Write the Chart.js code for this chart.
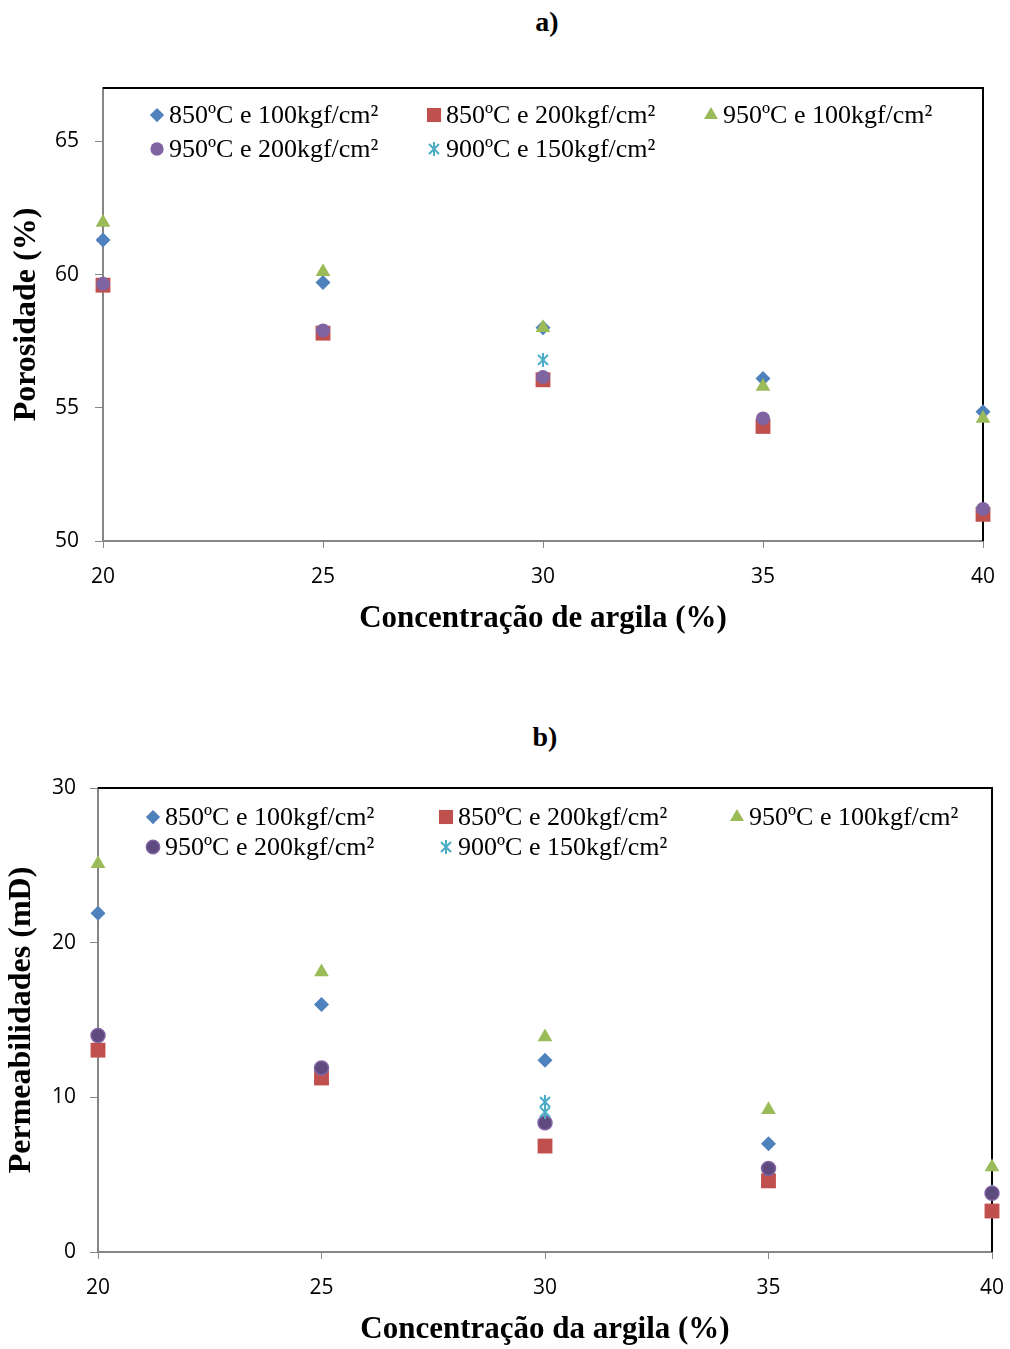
<!DOCTYPE html>
<html>
<head>
<meta charset="utf-8">
<script src="https://cdn.jsdelivr.net/npm/chart.js@4/dist/chart.umd.min.js"></script>
<style>
  body { margin: 0; background: #fff; }
  .wrap { position: relative; width: 1010px; height: 1349px; }
  .ptitle { position: absolute; width: 100px; text-align: center; font: bold 28px "Liberation Serif", serif; line-height: 34px; color: #000; }
  canvas { position: absolute; left: 0; }
</style>
</head>
<body>
<div class="wrap">
  <div class="ptitle" style="left:497px; top:5px;">a)</div>
  <canvas id="chartA" width="1010" height="610" style="top:40px;"></canvas>
  <div class="ptitle" style="left:495px; top:720px;">b)</div>
  <canvas id="chartB" width="1010" height="589" style="top:760px;"></canvas>
</div>
<script>
// clay concentration (%)
const concentration = [20, 25, 30, 35, 40];
const seriesNames = ['850ºC e 100kgf/cm²', '850ºC e 200kgf/cm²', '950ºC e 100kgf/cm²', '950ºC e 200kgf/cm²', '900ºC e 150kgf/cm²'];

// a) porosity (%)
const poro850_100 = [61.3, 59.7, 58.0, 56.1, 54.85];
const poro850_200 = [59.6, 57.8, 56.05, 54.3, 51.0];
const poro950_100 = [61.95, 60.1, 58.0, 55.8, 54.6];
const poro950_200 = [59.65, 57.9, 56.15, 54.6, 51.2];
const poro900_150x = [30];
const poro900_150 = [56.8];

// b) permeability (mD)
const perm850_100 = [21.9, 16.0, 12.4, 7.0, 3.9];
const perm850_200 = [13.05, 11.25, 6.85, 4.6, 2.65];
const perm950_100 = [25.1, 18.1, 13.9, 9.2, 5.5];
const perm950_200 = [14.0, 11.9, 8.35, 5.4, 3.8];
const perm900_150x = [30, 30];
const perm900_150 = [9.7, 9.05];

const yTicksA = [50, 55, 60, 65];
const yTicksB = [0, 10, 20, 30];

const serif = '"Liberation Serif", "Times New Roman", serif';
const sans = '"Open Sans", "Liberation Sans", sans-serif';

// excel style star marker: X with a vertical bar
function starMarker(color) {
  const c = document.createElement('canvas');
  c.width = 14; c.height = 14;
  const g = c.getContext('2d');
  g.strokeStyle = color;
  g.lineWidth = 2;
  g.beginPath();
  g.moveTo(2, 2); g.lineTo(12, 12);
  g.moveTo(12, 2); g.lineTo(2, 12);
  g.moveTo(7, 0); g.lineTo(7, 14);
  g.stroke();
  return c;
}

function pts(xs, ys) {
  return ys.map((v, i) => ({ x: xs[i], y: v }));
}

function makeSets(vals, crossX, purpleBorder) {
  const styles = [
    { pointStyle: 'rectRot', radius: 7.5, color: '#4F81BD', border: '#4F81BD' },
    { pointStyle: 'rect', radius: 10.5, color: '#C0504D', border: '#C0504D' },
    { pointStyle: 'triangle', radius: 8.5, color: '#9BBB59', border: '#9BBB59' },
    { pointStyle: 'circle', radius: 7, color: purpleBorder ? '#5E4A7E' : '#8064A2', border: '#8064A2' },
    { pointStyle: starMarker('#4BACC6'), radius: 7, color: '#4BACC6', border: '#4BACC6' }
  ];
  return vals.map((v, i) => ({
    label: seriesNames[i],
    data: i === 4 ? pts(crossX, v) : pts(concentration, v),
    pointStyle: styles[i].pointStyle,
    pointRadius: styles[i].radius,
    pointHoverRadius: styles[i].radius,
    backgroundColor: styles[i].color,
    borderColor: styles[i].border,
    pointBorderWidth: (i === 3 && purpleBorder) ? 1.5 : 0,
    showLine: false,
    clip: false,
    order: 5 - i
  }));
}

// legend drawn inside the plot area, 3 columns
const insideLegend = {
  id: 'insideLegend',
  afterDraw(chart, args, opts) {
    const { ctx, chartArea } = chart;
    ctx.save();
    chart.data.datasets.forEach((ds, i) => {
      const col = i % 3, row = Math.floor(i / 3);
      const x = chartArea.left + opts.cols[col];
      const y = chartArea.top + opts.rows[row];
      ctx.fillStyle = ds.backgroundColor;
      ctx.strokeStyle = ds.borderColor;
      ctx.lineWidth = ds.pointBorderWidth;
      Chart.helpers.drawPoint(ctx, {
        pointStyle: ds.pointStyle,
        radius: ds.pointRadius * 0.95,
        rotation: 0,
        borderWidth: ds.pointBorderWidth
      }, x, y);
      ctx.fillStyle = '#000';
      ctx.font = '26px ' + serif;
      ctx.textBaseline = 'middle';
      ctx.textAlign = 'left';
      ctx.fillText(ds.label, x + 12, y + 1);
    });
    ctx.restore();
  }
};

// black frame on top and right of the plot area
const frame = {
  id: 'frame',
  beforeDatasetsDraw(chart) {
    const { ctx, chartArea: a } = chart;
    ctx.save();
    ctx.strokeStyle = '#000';
    ctx.lineWidth = 2;
    ctx.beginPath();
    ctx.moveTo(a.left, a.top);
    ctx.lineTo(a.right, a.top);
    ctx.lineTo(a.right, a.bottom);
    ctx.stroke();
    ctx.restore();
  }
};

function buildChart(id, o) {
  return new Chart(document.getElementById(id), {
    type: 'scatter',
    data: { datasets: o.datasets },
    options: {
      responsive: false,
      animation: false,
      devicePixelRatio: 1,
      layout: { padding: o.padding, autoPadding: false },
      plugins: {
        legend: { display: false },
        tooltip: { enabled: false },
        insideLegend: o.legend
      },
      scales: {
        x: {
          type: 'linear', min: 20, max: 40,
          ticks: { stepSize: 5, padding: 16, color: '#000', font: { family: sans, size: 21 } },
          grid: { drawOnChartArea: false, drawTicks: true, tickLength: 7, color: '#868686' },
          border: { color: '#868686', width: 2 },
          title: { display: true, text: o.xTitle, color: '#000', font: { family: serif, size: 31, weight: 'bold' }, padding: { top: 0, bottom: o.xTitlePad } },
          afterFit(s) { s.height = o.xHeight; s.paddingRight = 0; s.paddingLeft = 0; }
        },
        y: {
          type: 'linear', min: o.yMin, max: o.yMax,
          ticks: { stepSize: o.yStep, padding: o.yTickPad, color: '#000', font: { family: sans, size: 21 } },
          afterBuildTicks(s) { s.ticks = o.yTicks.map(v => ({ value: v })); },
          grid: { drawOnChartArea: false, drawTicks: true, tickLength: 8, color: '#868686' },
          border: { color: '#868686', width: 2 },
          title: { display: true, text: o.yTitle, color: '#000', font: { family: serif, size: 32, weight: 'bold' }, padding: { top: o.yTitlePad, bottom: 0 } },
          afterFit(s) { s.width = o.yWidth; }
        }
      }
    },
    plugins: [frame, insideLegend]
  });
}

buildChart('chartA', {
  datasets: makeSets([poro850_100, poro850_200, poro950_100, poro950_200, poro900_150], poro900_150x, false),
  padding: { top: 48, right: 27, left: 0, bottom: 0 },
  xTitle: 'Concentração de argila (%)',
  yTitle: 'Porosidade (%)',
  xHeight: 109, xTitlePad: 12,
  yWidth: 103, yTitlePad: 8, yTickPad: 16,
  yMin: 50, yMax: 67, yStep: 5, yTicks: yTicksA,
  legend: { cols: [54, 331, 608], rows: [27, 61] }
});

buildChart('chartB', {
  datasets: makeSets([perm850_100, perm850_200, perm950_100, perm950_200, perm900_150], perm900_150x, true),
  padding: { top: 28, right: 18, left: 0, bottom: 0 },
  xTitle: 'Concentração da argila (%)',
  yTitle: 'Permeabilidades (mD)',
  xHeight: 97, xTitlePad: 0,
  yWidth: 98, yTitlePad: 3, yTickPad: 14,
  yMin: 0, yMax: 30, yStep: 10, yTicks: yTicksB,
  legend: { cols: [55, 348, 639], rows: [29, 59] }
});
</script>
</body>
</html>
